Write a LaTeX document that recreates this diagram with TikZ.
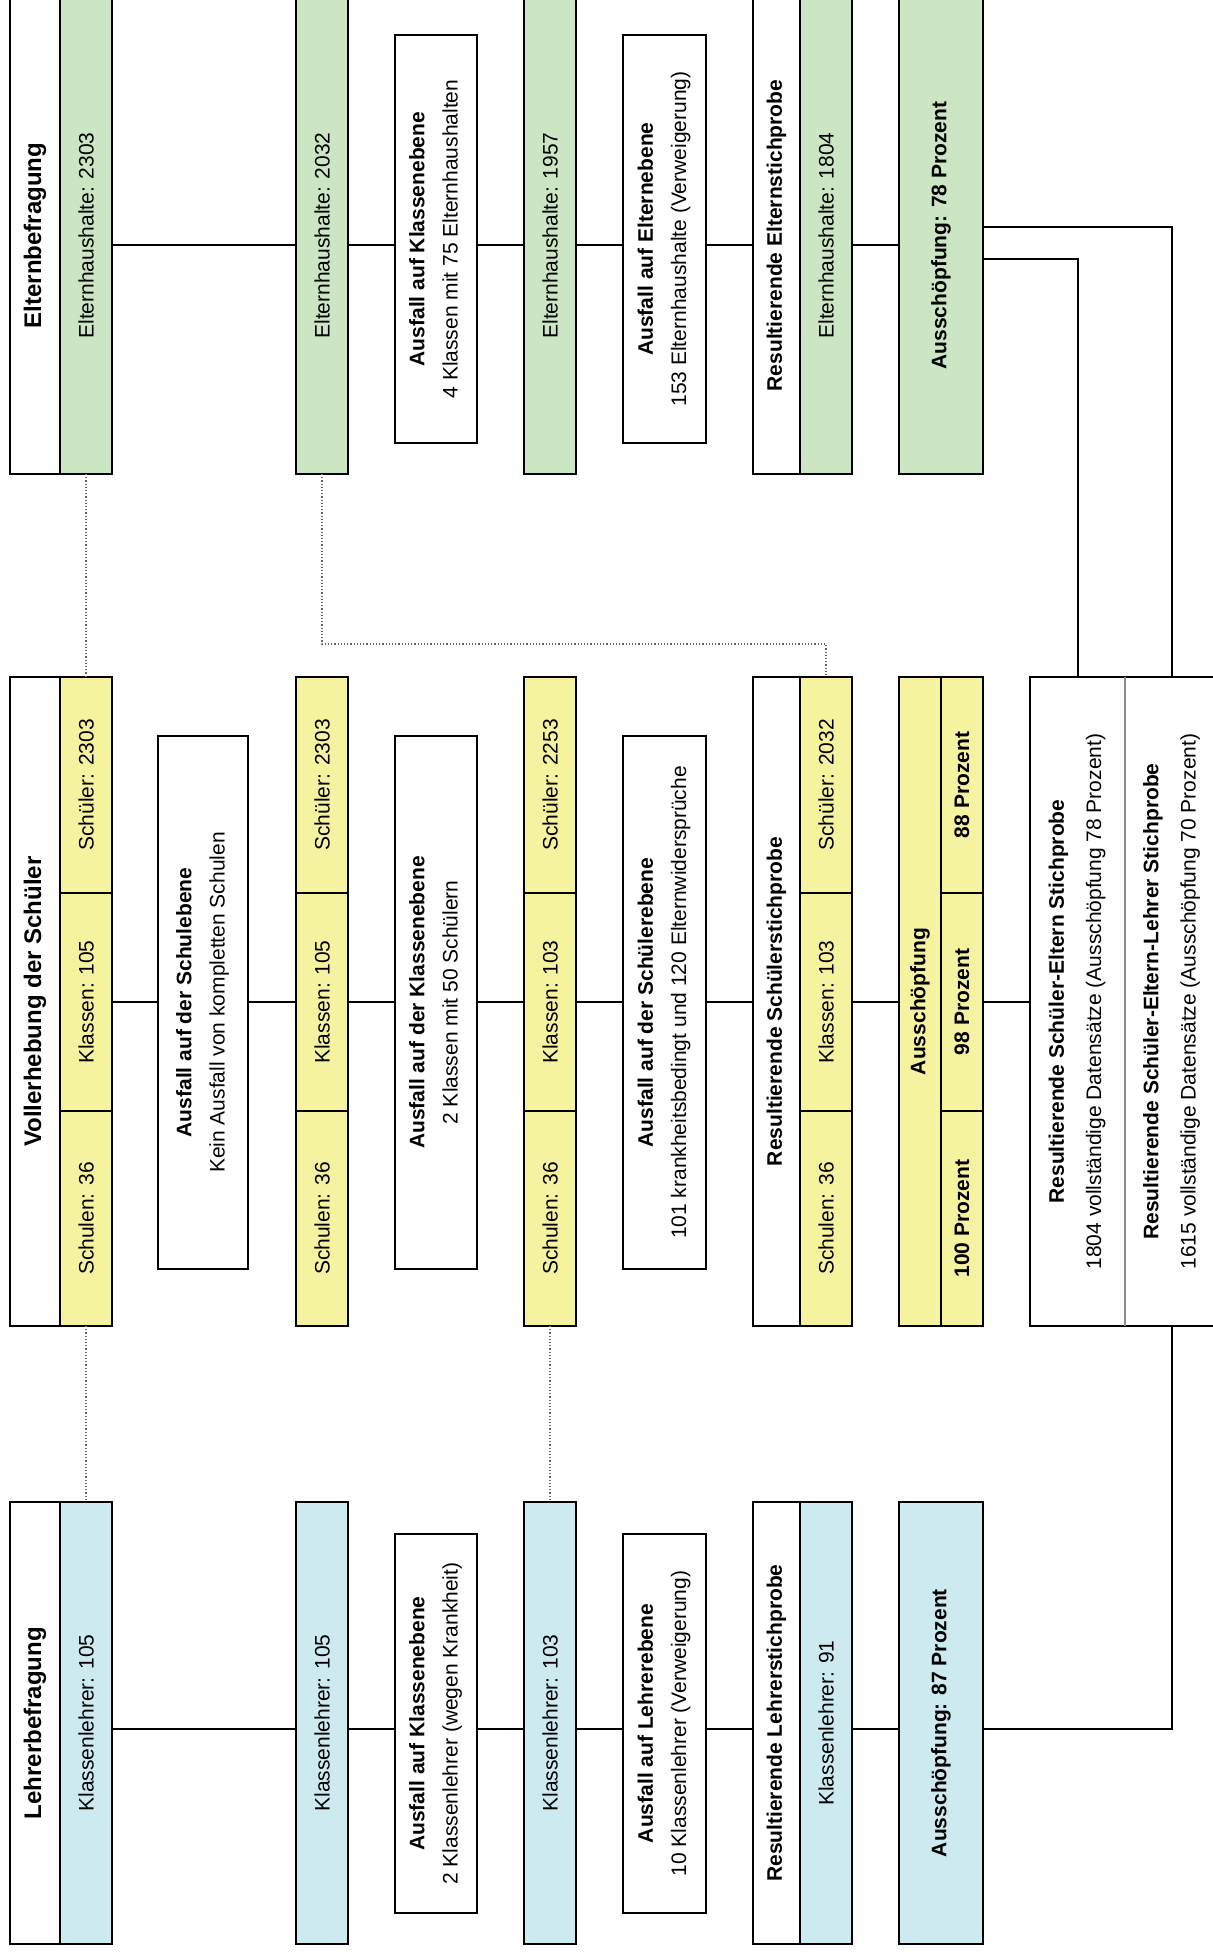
\documentclass[tikz,border=0pt]{standalone}
\usepackage{fontspec}
\setmainfont{Liberation Sans}
\usepackage{graphicx}
\definecolor{cgreen}{RGB}{204,230,196}
\definecolor{cyell}{RGB}{245,243,160}
\definecolor{cblue}{RGB}{205,234,240}
\newcommand\mybox[7]{%
  \pgfmathsetmacro\bw{(#4-#2)*0.5}%
  \pgfmathsetmacro\bh{(#5-#3)*0.5}%
  \node[#6, minimum width=\bw pt, minimum height=\bh pt] (#1) at ({(#2+#4)/2},{(#3+#5)/2}) {#7};}
\newcommand\rt[1]{\rotatebox{90}{#1}}
\newcommand\two[2]{\rotatebox{90}{\begin{tabular}{@{}c@{}}\textbf{#1}\\[4pt]#2\end{tabular}}}
\newcommand\twob[2]{\rotatebox{90}{\begin{tabular}{@{}c@{}}\textbf{#1}\\[6pt]#2\end{tabular}}}
\begin{document}
\begin{tikzpicture}[x=0.5pt,y=-0.5pt,
  every node/.style={font=\fontsize{10.5}{12.6}\selectfont},
  bx/.style={draw, line width=1.3pt, inner sep=0pt, outer sep=0pt},
  wb/.style={bx, fill=white},
  gb/.style={bx, fill=cgreen},
  yb/.style={bx, fill=cyell},
  bb/.style={bx, fill=cblue},
  ttl/.style={font=\fontsize{12}{14.4}\selectfont\bfseries},
  bld/.style={font=\fontsize{10.5}{12.6}\selectfont\bfseries},
  txt/.style={inner sep=0pt, outer sep=0pt},
  conn/.style={line width=1pt},
  dotl/.style={line width=0.6pt, black!60, densely dotted}]
\useasboundingbox (0,0) rectangle (1213,1954);
\clip (0,0) rectangle (1213,1954);

% ---------- top row: Eltern ----------
\mybox{et}{10}{-3}{60}{474}{wb,ttl}{\rt{Elternbefragung}}
\mybox{ed}{60}{-3}{112}{474}{gb}{\rt{Elternhaushalte: 2303}}
\mybox{e1}{296}{-3}{348}{474}{gb}{\rt{Elternhaushalte: 2032}}
\mybox{ea1}{395}{35}{477}{443}{wb}{\two{Ausfall auf Klassenebene}{4 Klassen mit 75 Elternhaushalten}}
\mybox{e2}{524}{-3}{576}{474}{gb}{\rt{Elternhaushalte: 1957}}
\mybox{ea2}{623}{35}{706}{443}{wb}{\two{Ausfall auf Elternebene}{153 Elternhaushalte (Verweigerung)}}
\mybox{ert}{753}{-3}{800}{474}{wb,bld}{\rt{Resultierende Elternstichprobe}}
\mybox{erd}{800}{-3}{852}{474}{gb}{\rt{Elternhaushalte: 1804}}
\mybox{e78}{899}{-3}{983}{474}{gb,bld}{\rt{Ausschöpfung: 78 Prozent}}

% ---------- middle row: Schueler ----------
\mybox{vt}{10}{677}{60}{1326}{wb,ttl}{\rt{Vollerhebung der Schüler}}
\mybox{v3}{60}{677}{112}{893}{yb}{\rt{Schüler: 2303}}
\mybox{v2}{60}{893}{112}{1111}{yb}{\rt{Klassen: 105}}
\mybox{v1}{60}{1111}{112}{1326}{yb}{\rt{Schulen: 36}}
\mybox{sa1}{158}{736}{248}{1269}{wb}{\two{Ausfall auf der Schulebene}{Kein Ausfall von kompletten Schulen}}
\mybox{c1c}{296}{677}{348}{893}{yb}{\rt{Schüler: 2303}}
\mybox{c1b}{296}{893}{348}{1111}{yb}{\rt{Klassen: 105}}
\mybox{c1a}{296}{1111}{348}{1326}{yb}{\rt{Schulen: 36}}
\mybox{sa2}{395}{736}{477}{1269}{wb}{\two{Ausfall auf der Klassenebene}{2 Klassen mit 50 Schülern}}
\mybox{c2c}{524}{677}{576}{893}{yb}{\rt{Schüler: 2253}}
\mybox{c2b}{524}{893}{576}{1111}{yb}{\rt{Klassen: 103}}
\mybox{c2a}{524}{1111}{576}{1326}{yb}{\rt{Schulen: 36}}
\mybox{sa3}{623}{736}{706}{1269}{wb}{\two{Ausfall auf der Schülerebene}{101 krankheitsbedingt und 120 Elternwidersprüche}}
\mybox{rst}{753}{677}{800}{1326}{wb,bld}{\rt{Resultierende Schülerstichprobe}}
\mybox{rs3}{800}{677}{852}{893}{yb}{\rt{Schüler: 2032}}
\mybox{rs2}{800}{893}{852}{1111}{yb}{\rt{Klassen: 103}}
\mybox{rs1}{800}{1111}{852}{1326}{yb}{\rt{Schulen: 36}}
\mybox{at}{899}{677}{941}{1326}{yb,bld}{\rt{Ausschöpfung}}
\mybox{a3}{941}{677}{983}{893}{yb,bld}{\rt{88 Prozent}}
\mybox{a2}{941}{893}{983}{1111}{yb,bld}{\rt{98 Prozent}}
\mybox{a1}{941}{1111}{983}{1326}{yb,bld}{\rt{100 Prozent}}
\mybox{fin}{1030}{677}{1219}{1326}{wb}{}
\mybox{fin1}{1030}{677}{1125}{1326}{txt}{\twob{Resultierende Schüler-Eltern Stichprobe}{1804 vollständige Datensätze (Ausschöpfung 78 Prozent)}}
\mybox{fin2}{1125}{677}{1219}{1326}{txt}{\twob{Resultierende Schüler-Eltern-Lehrer Stichprobe}{1615 vollständige Datensätze (Ausschöpfung 70 Prozent)}\hspace{7pt}}
\draw[line width=0.6pt, black!45] (fin1.north east) -- (fin1.south east);

% ---------- bottom row: Lehrer ----------
\mybox{lt}{10}{1502}{60}{1944}{wb,ttl}{\rt{Lehrerbefragung}}
\mybox{ld}{60}{1502}{112}{1944}{bb}{\rt{Klassenlehrer: 105}}
\mybox{l1}{296}{1502}{348}{1944}{bb}{\rt{Klassenlehrer: 105}}
\mybox{la1}{395}{1534}{477}{1913}{wb}{\two{Ausfall auf Klassenebene}{2 Klassenlehrer (wegen Krankheit)}}
\mybox{l2}{524}{1502}{576}{1944}{bb}{\rt{Klassenlehrer: 103}}
\mybox{la2}{623}{1534}{706}{1913}{wb}{\two{Ausfall auf Lehrerebene}{10 Klassenlehrer (Verweigerung)}}
\mybox{lrt}{753}{1502}{800}{1944}{wb,bld}{\rt{Resultierende Lehrerstichprobe}}
\mybox{lrd}{800}{1502}{852}{1944}{bb}{\rt{Klassenlehrer: 91}}
\mybox{l87}{899}{1502}{983}{1944}{bb,bld}{\rt{Ausschöpfung: 87 Prozent}}

% ---------- row lines ----------
\coordinate (rE) at (0,245);
\coordinate (rS) at (0,1002);
\coordinate (rL) at (0,1729);
\coordinate (eu) at (0,227);
\coordinate (el) at (0,259);
\coordinate (dj) at (0,644);

\draw[conn] (ed.east |- rE) -- (e1.west |- rE);
\draw[conn] (e1.east |- rE) -- (ea1.west |- rE);
\draw[conn] (ea1.east |- rE) -- (e2.west |- rE);
\draw[conn] (e2.east |- rE) -- (ea2.west |- rE);
\draw[conn] (ea2.east |- rE) -- (ert.west |- rE);
\draw[conn] (erd.east |- rE) -- (e78.west |- rE);

\draw[conn] (v2.east |- rS) -- (sa1.west |- rS);
\draw[conn] (sa1.east |- rS) -- (c1b.west |- rS);
\draw[conn] (c1b.east |- rS) -- (sa2.west |- rS);
\draw[conn] (sa2.east |- rS) -- (c2b.west |- rS);
\draw[conn] (c2b.east |- rS) -- (sa3.west |- rS);
\draw[conn] (sa3.east |- rS) -- (rst.west |- rS);
\draw[conn] (rs2.east |- rS) -- (at.west |- rS);
\draw[conn] (a2.east |- rS) -- (fin.west |- rS);

\draw[conn] (ld.east |- rL) -- (l1.west |- rL);
\draw[conn] (l1.east |- rL) -- (la1.west |- rL);
\draw[conn] (la1.east |- rL) -- (l2.west |- rL);
\draw[conn] (l2.east |- rL) -- (la2.west |- rL);
\draw[conn] (la2.east |- rL) -- (lrt.west |- rL);
\draw[conn] (lrd.east |- rL) -- (l87.west |- rL);

% ---------- merging lines ----------
\draw[conn] (e78.east |- eu) -| (fin2.north);
\draw[conn] (e78.east |- el) -| (fin1.north);
\draw[conn] (fin2.south) |- (l87.east |- rL);

% ---------- dotted links ----------
\draw[dotl] (ed.south) -- (v3.north);
\draw[dotl] (v1.south) -- (ld.north);
\draw[dotl] (c2a.south) -- (l2.north);
\draw[dotl] (e1.south) -- (e1.south |- dj) -| (rs3.north);
\end{tikzpicture}
\end{document}
